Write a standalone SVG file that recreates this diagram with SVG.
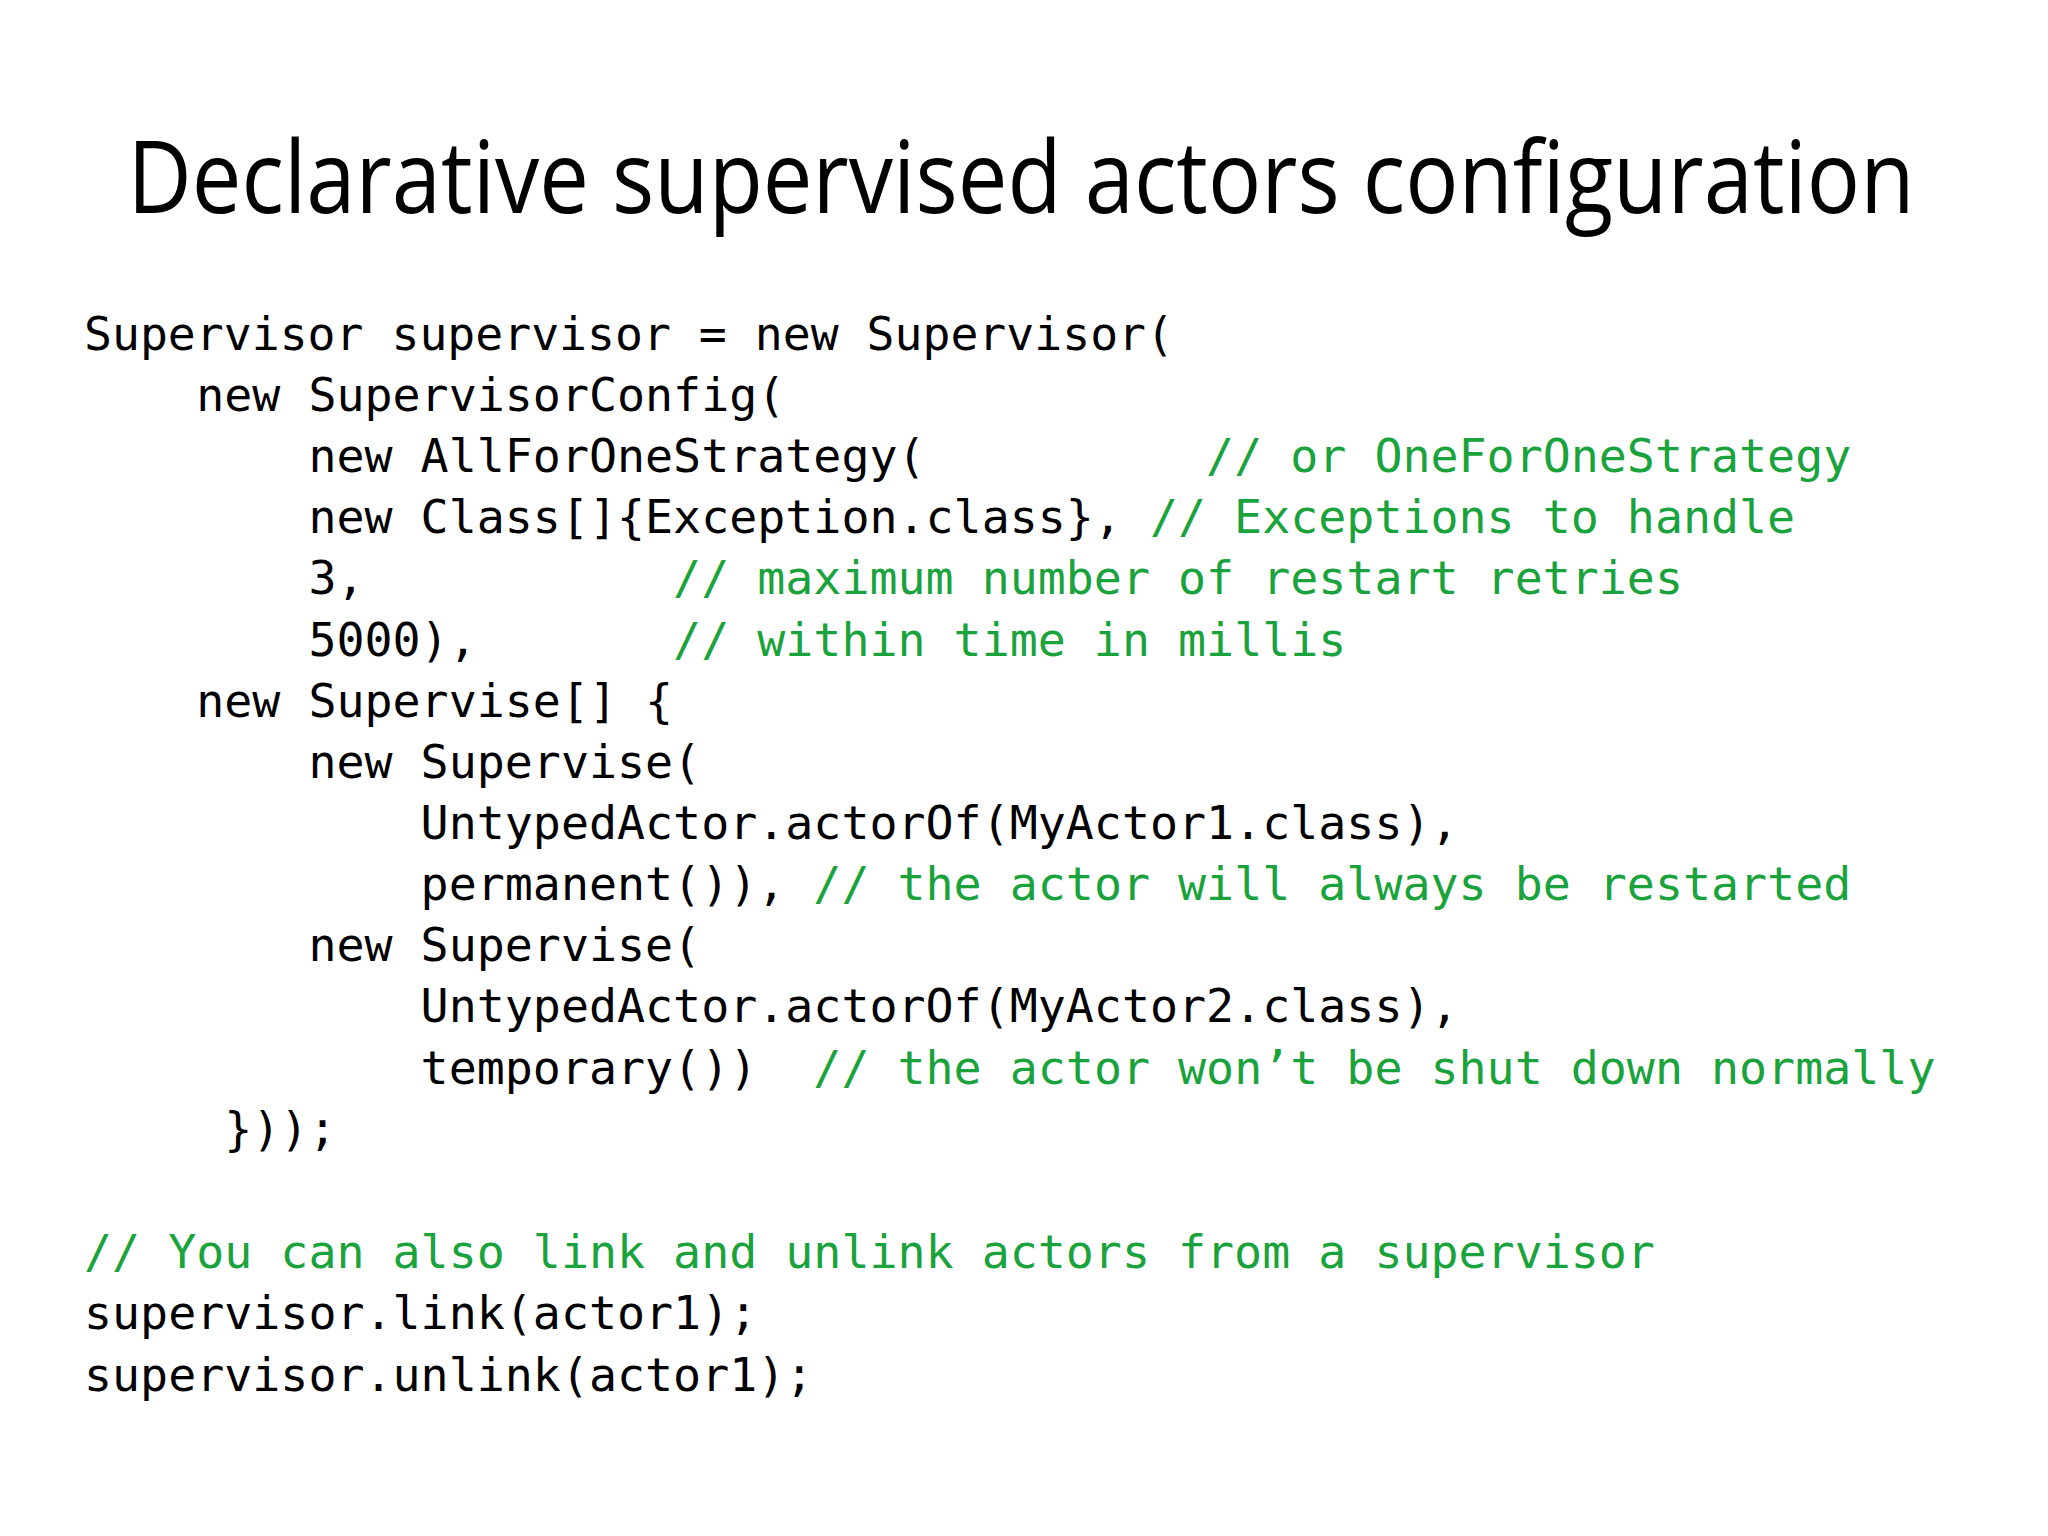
<svg xmlns="http://www.w3.org/2000/svg" width="2048" height="1536" viewBox="0 0 2048 1536">
<style>
.t{font-family:"Open Sans","Liberation Sans",sans-serif;font-size:100px;fill:#000}
.c{font-family:"DejaVu Sans Mono","Liberation Mono",monospace;font-size:46.6px;fill:#000;white-space:pre}
.g{fill:#1aa33c}
</style>
<rect width="2048" height="1536" fill="#fff"/>
<text class="t" x="1021" y="213" text-anchor="middle" textLength="1787" lengthAdjust="spacingAndGlyphs">Declarative supervised actors configuration</text>
<g xml:space="preserve">
<text class="c" x="84" y="350" textLength="1090" lengthAdjust="spacingAndGlyphs">Supervisor supervisor = new Supervisor(</text>
<text class="c" x="84" y="411">    new SupervisorConfig(</text>
<text class="c" x="84" y="472">        new AllForOneStrategy(          <tspan class="g">// or OneForOneStrategy</tspan></text>
<text class="c" x="84" y="533">        new Class[]{Exception.class}, <tspan class="g">// Exceptions to handle</tspan></text>
<text class="c" x="84" y="594">        3,           <tspan class="g">// maximum number of restart retries</tspan></text>
<text class="c" x="84" y="656">        5000),       <tspan class="g">// within time in millis</tspan></text>
<text class="c" x="84" y="717">    new Supervise[] {</text>
<text class="c" x="84" y="778">        new Supervise(</text>
<text class="c" x="84" y="839">            UntypedActor.actorOf(MyActor1.class),</text>
<text class="c" x="84" y="900">            permanent()), <tspan class="g">// the actor will always be restarted</tspan></text>
<text class="c" x="84" y="961">        new Supervise(</text>
<text class="c" x="84" y="1022">            UntypedActor.actorOf(MyActor2.class),</text>
<text class="c" x="84" y="1084">            temporary())  <tspan class="g">// the actor won’t be shut down normally</tspan></text>
<text class="c" x="84" y="1145">     }));</text>
<text class="c g" x="84" y="1268">// You can also link and unlink actors from a supervisor</text>
<text class="c" x="84" y="1329">supervisor.link(actor1);</text>
<text class="c" x="84" y="1391">supervisor.unlink(actor1);</text>
</g>
</svg>
